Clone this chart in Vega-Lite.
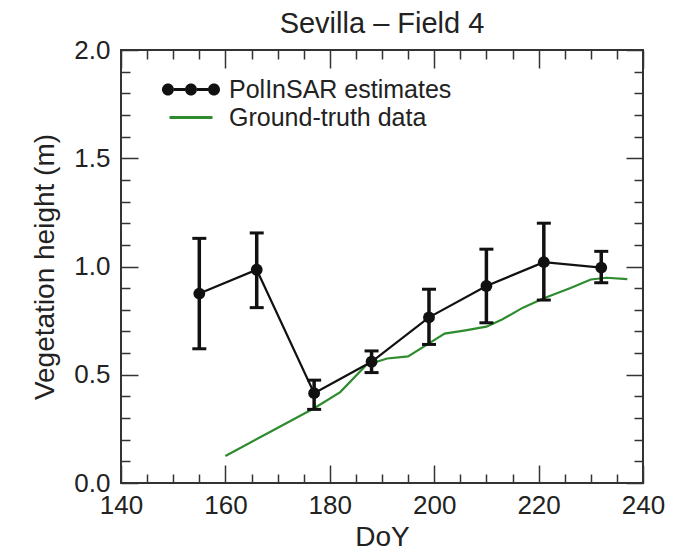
{
  "$schema": "https://vega.github.io/schema/vega-lite/v6.json",
  "width": 522,
  "height": 433,
  "autosize": {"type": "none"},
  "padding": {"left": 121, "top": 50, "right": 54, "bottom": 67},
  "background": "white",
  "title": {"text": "Sevilla – Field 4", "font": "Liberation Sans", "fontSize": 29, "fontWeight": "normal", "color": "#222222", "anchor": "middle", "offset": -2},
  "datasets": {
    "polinsar": [
      {"DoY": 155, "height": 0.875, "lo": 0.62, "hi": 1.13, "series": "PolInSAR estimates"},
      {"DoY": 166, "height": 0.985, "lo": 0.81, "hi": 1.155, "series": "PolInSAR estimates"},
      {"DoY": 177, "height": 0.415, "lo": 0.34, "hi": 0.475, "series": "PolInSAR estimates"},
      {"DoY": 188, "height": 0.56, "lo": 0.51, "hi": 0.61, "series": "PolInSAR estimates"},
      {"DoY": 199, "height": 0.765, "lo": 0.64, "hi": 0.895, "series": "PolInSAR estimates"},
      {"DoY": 210, "height": 0.91, "lo": 0.74, "hi": 1.08, "series": "PolInSAR estimates"},
      {"DoY": 221, "height": 1.02, "lo": 0.845, "hi": 1.2, "series": "PolInSAR estimates"},
      {"DoY": 232, "height": 0.995, "lo": 0.925, "hi": 1.07, "series": "PolInSAR estimates"}
    ],
    "truth": [
      {"DoY": 160, "height": 0.125, "series": "Ground-truth data"},
      {"DoY": 168, "height": 0.229, "series": "Ground-truth data"},
      {"DoY": 177, "height": 0.345, "series": "Ground-truth data"},
      {"DoY": 182, "height": 0.42, "series": "Ground-truth data"},
      {"DoY": 187, "height": 0.545, "series": "Ground-truth data"},
      {"DoY": 191, "height": 0.575, "series": "Ground-truth data"},
      {"DoY": 195, "height": 0.585, "series": "Ground-truth data"},
      {"DoY": 199, "height": 0.645, "series": "Ground-truth data"},
      {"DoY": 202, "height": 0.69, "series": "Ground-truth data"},
      {"DoY": 206, "height": 0.705, "series": "Ground-truth data"},
      {"DoY": 210, "height": 0.722, "series": "Ground-truth data"},
      {"DoY": 213, "height": 0.755, "series": "Ground-truth data"},
      {"DoY": 217, "height": 0.81, "series": "Ground-truth data"},
      {"DoY": 221, "height": 0.853, "series": "Ground-truth data"},
      {"DoY": 226, "height": 0.9, "series": "Ground-truth data"},
      {"DoY": 230, "height": 0.94, "series": "Ground-truth data"},
      {"DoY": 233, "height": 0.948, "series": "Ground-truth data"},
      {"DoY": 237, "height": 0.942, "series": "Ground-truth data"}
    ]
  },
  "resolve": {"axis": {"x": "independent", "y": "independent"}},
  "layer": [
    {
      "data": {"name": "truth"},
      "mark": {"type": "line", "color": "#2e8b2e", "strokeWidth": 2.2},
      "encoding": {
        "x": {"field": "DoY", "type": "quantitative", "scale": {"domain": [140, 240], "nice": false, "zero": false},
              "axis": {"orient": "bottom", "values": [140, 160, 180, 200, 220, 240], "format": "d", "ticks": false, "labelPadding": 9, "labelFlush": false, "labelOverlap": false, "title": "DoY", "titlePadding": 5}},
        "y": {"field": "height", "type": "quantitative", "scale": {"domain": [0, 2], "nice": false, "zero": false},
              "axis": {"orient": "left", "values": [0, 0.5, 1, 1.5, 2], "format": ".1f", "ticks": false, "labelPadding": 11, "labelFlush": false, "labelOverlap": false, "title": "Vegetation height (m)", "titlePadding": 14}}
      }
    },
    {
      "data": {"name": "polinsar"},
      "mark": {"type": "rule", "color": "#111111", "strokeWidth": 3.5},
      "encoding": {
        "x": {"field": "DoY", "type": "quantitative",
              "axis": {"orient": "bottom", "values": [140, 160, 180, 200, 220, 240], "labels": false, "tickSize": -18, "title": null}},
        "y": {"field": "lo", "type": "quantitative",
              "axis": {"orient": "left", "values": [0, 0.5, 1, 1.5, 2], "labels": false, "tickSize": -17, "title": null}},
        "y2": {"field": "hi"}
      }
    },
    {
      "data": {"name": "polinsar"},
      "mark": {"type": "tick", "orient": "horizontal", "color": "#111111", "size": 14, "thickness": 3, "opacity": 1},
      "encoding": {
        "x": {"field": "DoY", "type": "quantitative",
              "axis": {"orient": "bottom", "values": [145, 150, 155, 165, 170, 175, 185, 190, 195, 205, 210, 215, 225, 230, 235], "labels": false, "tickSize": -9, "title": null}},
        "y": {"field": "lo", "type": "quantitative",
              "axis": {"orient": "left", "values": [0.1, 0.2, 0.3, 0.4, 0.6, 0.7, 0.8, 0.9, 1.1, 1.2, 1.3, 1.4, 1.6, 1.7, 1.8, 1.9], "labels": false, "tickSize": -9, "title": null}}
      }
    },
    {
      "data": {"name": "polinsar"},
      "mark": {"type": "tick", "orient": "horizontal", "color": "#111111", "size": 14, "thickness": 3, "opacity": 1},
      "encoding": {
        "x": {"field": "DoY", "type": "quantitative",
              "axis": {"orient": "top", "values": [140, 160, 180, 200, 220, 240], "labels": false, "tickSize": -18, "title": null}},
        "y": {"field": "hi", "type": "quantitative",
              "axis": {"orient": "right", "values": [0, 0.5, 1, 1.5, 2], "labels": false, "tickSize": -17, "title": null}}
      }
    },
    {
      "data": {"name": "polinsar"},
      "mark": {"type": "line", "color": "#111111", "strokeWidth": 2.2},
      "encoding": {
        "x": {"field": "DoY", "type": "quantitative",
              "axis": {"orient": "top", "values": [145, 150, 155, 165, 170, 175, 185, 190, 195, 205, 210, 215, 225, 230, 235], "labels": false, "tickSize": -9, "title": null}},
        "y": {"field": "height", "type": "quantitative",
              "axis": {"orient": "right", "values": [0.1, 0.2, 0.3, 0.4, 0.6, 0.7, 0.8, 0.9, 1.1, 1.2, 1.3, 1.4, 1.6, 1.7, 1.8, 1.9], "labels": false, "tickSize": -9, "title": null}}
      }
    },
    {
      "data": {"name": "polinsar"},
      "mark": {"type": "point", "filled": true, "size": 140, "opacity": 1, "strokeWidth": 0, "color": "#111111", "shape": "circle"},
      "encoding": {
        "x": {"field": "DoY", "type": "quantitative", "axis": null},
        "y": {"field": "height", "type": "quantitative", "axis": null}
      }
    },
    {
      "data": {"name": "polinsar"},
      "mark": {"type": "point", "filled": true, "size": 1, "opacity": 0, "strokeWidth": 0},
      "encoding": {
        "x": {"field": "DoY", "type": "quantitative", "axis": null},
        "y": {"field": "height", "type": "quantitative", "axis": null},
        "color": {"field": "series", "type": "nominal",
                  "scale": {"domain": ["PolInSAR estimates", "Ground-truth data"], "range": ["#111111", "#2e8b2e"]},
                  "legend": {"orient": "none", "legendX": 57.5, "legendY": 27, "title": null, "padding": 0,
                             "labelFont": "Liberation Sans", "labelFontSize": 25, "labelColor": "#222222", "labelLimit": 600,
                             "symbolSize": 100, "symbolOffset": 0, "symbolOpacity": 1, "symbolStrokeWidth": 0,
                             "labelOffset": 25.5, "rowPadding": 2}},
        "shape": {"field": "series", "type": "nominal",
                  "scale": {"domain": ["PolInSAR estimates", "Ground-truth data"],
                            "range": ["M-5.8,0A1.2,1.2,0,1,0,-3.4,0A1.2,1.2,0,1,0,-5.8,0ZM-1.2,0A1.2,1.2,0,1,0,1.2,0A1.2,1.2,0,1,0,-1.2,0ZM3.4,0A1.2,1.2,0,1,0,5.8,0A1.2,1.2,0,1,0,3.4,0ZM-3.4,-0.3L-1.2,-0.3L-1.2,0.3L-3.4,0.3ZM1.2,-0.3L3.4,-0.3L3.4,0.3L1.2,0.3Z",
                                      "M-4.3,-0.3L4.3,-0.3L4.3,0.3L-4.3,0.3Z"]},
                  "legend": {"orient": "none", "legendX": 57.5, "legendY": 27, "title": null, "padding": 0,
                             "labelFont": "Liberation Sans", "labelFontSize": 25, "labelColor": "#222222", "labelLimit": 600,
                             "symbolSize": 100, "symbolOffset": 0, "symbolOpacity": 1, "symbolStrokeWidth": 0,
                             "labelOffset": 25.5, "rowPadding": 2}}
      }
    }
  ],
  "config": {
    "view": {"stroke": "#333333", "strokeWidth": 2},
    "axis": {"grid": false, "domain": false, "labelFont": "Liberation Sans", "titleFont": "Liberation Sans",
             "labelFontSize": 26, "titleFontSize": 28, "titleFontWeight": "normal",
             "labelColor": "#222222", "titleColor": "#222222", "tickColor": "#333333", "tickWidth": 1.5}
  }
}
